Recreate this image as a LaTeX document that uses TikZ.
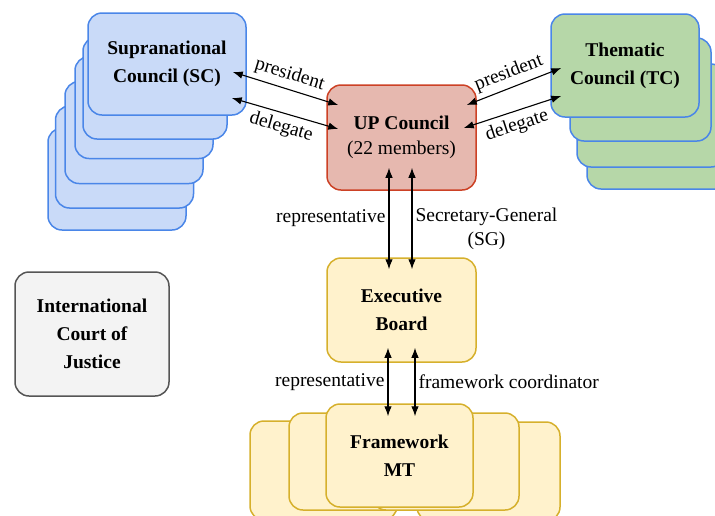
\documentclass[tikz,border=0pt]{standalone}
\usepackage{fontspec}
\setmainfont{Liberation Serif}
\usetikzlibrary{arrows.meta}
\usetikzlibrary{calc}

\definecolor{scfill}{RGB}{201,218,248}
\definecolor{tcfill}{RGB}{182,215,168}
\definecolor{blueline}{RGB}{74,134,232}
\definecolor{upfill}{RGB}{230,184,175}
\definecolor{upline}{RGB}{204,65,37}
\definecolor{ebfill}{RGB}{255,242,204}
\definecolor{ebline}{RGB}{214,176,44}
\definecolor{icjfill}{RGB}{243,243,243}
\definecolor{icjline}{RGB}{85,85,85}

\begin{document}
\begin{tikzpicture}[x=1pt,y=1pt,yscale=-1,
  box/.style={rectangle, rounded corners=14pt, line width=1.5pt, inner sep=0pt, align=center, font=\fontsize{19.5}{28}\selectfont\bfseries},
  scbox/.style={box, draw=blueline, fill=scfill, minimum width=138pt, minimum height=102pt},
  tcbox/.style={box, draw=blueline, fill=tcfill, minimum width=148pt, minimum height=103pt},
  upbox/.style={box, draw=upline, fill=upfill, minimum width=149pt, minimum height=105pt, font=\fontsize{19.5}{25}\selectfont},
  ebbox/.style={box, draw=ebline, fill=ebfill, minimum width=149pt, minimum height=104pt},
  fwbox/.style={box, draw=ebline, fill=ebfill, minimum width=147pt, minimum height=97pt},
  icjbox/.style={box, draw=icjline, fill=icjfill, minimum width=154pt, minimum height=124pt},
  link/.style={{Latex[length=10pt,width=7.5pt]}-{Latex[length=10pt,width=7.5pt]}, line width=1.1pt},
  lbl/.style={font=\fontsize{19.5}{24}\selectfont, inner sep=3pt},
  tilted/.style={lbl, inner sep=5pt}
]
\clip (0,0) rectangle (715,515);

%Shape: Supranational stack
\foreach \cx/\cy [count=\i] in {117/179, 124.5/157, 134/132.5, 144/107.5}
  \node[scbox] (sc\i) at (\cx,\cy) {};
\node[scbox, minimum width=144pt] (sc5) at (155,88) {};
\node[scbox, minimum width=158pt] (sc) at (167,64) {Supranational\\Council (SC)};

%Shape: Thematic stack
\node[tcbox] (tc3) at (661,137.5) {};
\node[tcbox] (tc2) at (651,115.5) {};
\node[tcbox, minimum width=141pt] (tc1) at (640.5,89.5) {};
\node[tcbox] (tc) at (625,65.5) {Thematic\\Council (TC)};

%Shape: UP Council
\node[upbox] (up) at (401.5,137.5) {\textbf{UP Council}\\(22 members)};

%Shape: Executive Board
\node[ebbox] (eb) at (401.5,310) {Executive\\Board};

%Shape: Court
\node[icjbox] (icj) at (92,334) {International\\Court of\\Justice};

%Shape: Framework stack
\node[fwbox, minimum height=99pt] (fw4) at (323.5,470.5) {};
\node[fwbox, minimum width=143pt, minimum height=99pt] (fw3) at (488.5,471.5) {};
\node[fwbox] (fw2) at (362.5,461.5) {};
\node[fwbox] (fw1) at (445.5,461.5) {};
\node[fwbox, minimum height=103pt] (fw) at (399.5,455.5) {Framework\\MT};

%Straight Lines: SC -- UP
\draw[link] ($(sc.east)+(-14,8)$) -- node[tilted, rotate=-17, above] {president} ($(up.west)+(12,-32.5)$);
\draw[link] ($(sc.east)+(-15,34)$) -- node[tilted, rotate=-16, below] {delegate} ($(up.west)+(12,-8.5)$);

%Straight Lines: UP -- TC
\draw[link] ($(up.east)+(-10,-32.5)$) -- node[tilted, rotate=21, above] {president} ($(tc.west)+(11,2.5)$);
\draw[link] ($(up.east)+(-13,-9.5)$) -- node[tilted, rotate=18, below] {delegate} ($(tc.west)+(11,30.5)$);

%Straight Lines: UP -- EB
\draw[link] ($(up.south)+(-12.5,-23)$) -- node[lbl, left] {representative} ($(eb.north)+(-12.5,12)$);
\draw[link] ($(up.south)+(10.5,-23)$) -- node[lbl, right, pos=0.6, align=center] {Secretary-General\\(SG)} ($(eb.north)+(10.5,12)$);

%Straight Lines: EB -- FW
\draw[link] ($(eb.south)+(-13.5,-15)$) -- node[lbl, left] {representative} ($(fw.north)+(-11.5,13)$);
\draw[link] ($(eb.south)+(13.5,-15)$) -- node[lbl, right] {framework coordinator} ($(fw.north)+(15.5,13)$);

\end{tikzpicture}
\end{document}
